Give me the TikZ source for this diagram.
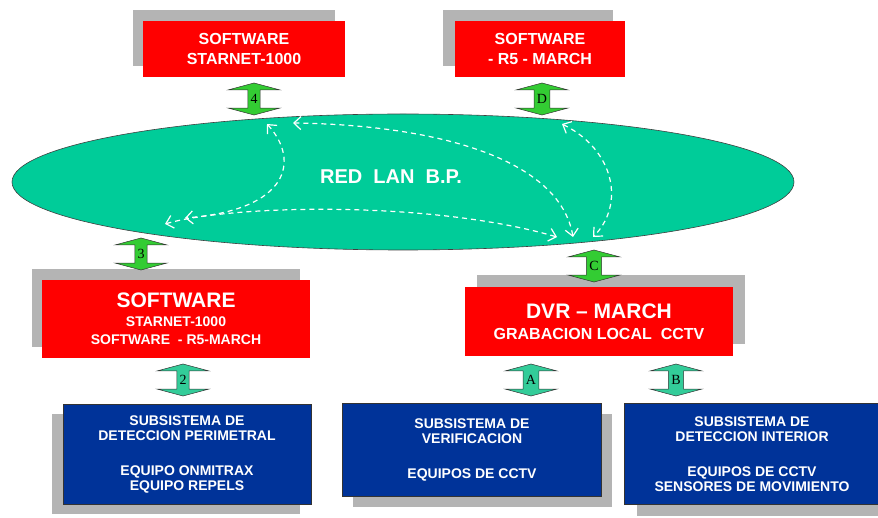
\documentclass[tikz,border=0pt]{standalone}
\usepackage{fontspec}
\setmainfont{Liberation Sans}
\newfontfamily\tmsfont{Liberation Serif}
\usetikzlibrary{shapes.geometric,shapes.arrows,shadows,arrows.meta}
\definecolor{boxred}{HTML}{FF0000}
\definecolor{boxblue}{HTML}{003399}
\definecolor{lanfill}{HTML}{00CC99}
\definecolor{shadowgray}{HTML}{B4B4B4}
\definecolor{arrgreen}{HTML}{33CC33}
\definecolor{arrteal}{HTML}{33CC99}
\begin{document}
\begin{tikzpicture}[x=1pt,y=-1pt,
    redbox/.style={fill=boxred, text=white, align=center, inner sep=0pt},
    bluebox/.style={fill=boxblue, draw=black!80, line width=0.6pt, text=white,
      font=\bfseries\fontsize{14}{15}\selectfont, align=center, inner sep=0pt},
    blockarrow/.style={double arrow, shape border rotate=90, draw=black!80, line width=0.5pt,
      minimum height=32pt, minimum width=52pt, double arrow head extend=12pt,
      double arrow tip angle=150, inner sep=0pt, font=\tmsfont\fontsize{14}{14}\selectfont},
    lanlink/.style={white, line width=1.2pt, dash pattern=on 5pt off 4pt,
      {Straight Barb[length=7pt,width=13pt]}-{Straight Barb[length=7pt,width=13pt]}}]
  \useasboundingbox (0,0) rectangle (878,518);

  % red network
  \node[ellipse, fill=lanfill, draw=black!75, line width=0.6pt,
    minimum width=782pt, minimum height=136pt] (lan) at (403,182) {};
  \node[text=white, font=\bfseries\fontsize{20}{20}\selectfont] (lanlbl) at (391,177) {RED\ \ LAN\ \ B.P.};

  % software boxes
  \node[redbox, minimum width=202pt, minimum height=56pt, font=\bfseries\fontsize{16}{20}\selectfont,
    drop shadow={shadow xshift=-10pt, shadow yshift=11pt, fill=shadowgray, opacity=1}]
    (swstar) at (244,49) {SOFTWARE\\ STARNET-1000};
  \node[redbox, minimum width=170pt, minimum height=56pt, font=\bfseries\fontsize{16}{20}\selectfont,
    drop shadow={shadow xshift=-12pt, shadow yshift=11pt, fill=shadowgray, opacity=1}]
    (swmarch) at (540,49) {SOFTWARE\\ - R5 - MARCH};
  \node[redbox, minimum width=268pt, minimum height=78pt, font=\bfseries\fontsize{14}{18}\selectfont,
    drop shadow={shadow xshift=-10pt, shadow yshift=11pt, fill=shadowgray, opacity=1}]
    (swboth) at (176,319) {{\fontsize{21}{21}\selectfont SOFTWARE}\\[1pt]
      STARNET-1000\\ SOFTWARE\ \ - R5-MARCH};
  \node[redbox, minimum width=268pt, minimum height=69pt, font=\bfseries\fontsize{16}{21}\selectfont,
    drop shadow={shadow xshift=12pt, shadow yshift=12pt, fill=shadowgray, opacity=1}]
    (dvr) at (599,322) {{\fontsize{21}{21}\selectfont DVR – MARCH}\\ GRABACION LOCAL\ \ CCTV};

  % subsystems
  \node[bluebox, minimum width=248pt, minimum height=100pt,
    drop shadow={shadow xshift=-11pt, shadow yshift=-10pt, fill=shadowgray, opacity=1}]
    (perim) at (187,454) {SUBSISTEMA DE\\ DETECCION PERIMETRAL\\[20pt] EQUIPO ONMITRAX\\ EQUIPO REPELS};
  \node[bluebox, minimum width=259pt, minimum height=93pt,
    drop shadow={shadow xshift=10pt, shadow yshift=-10pt, fill=shadowgray, opacity=1}]
    (verif) at (472,450) {SUBSISTEMA DE\\ VERIFICACION\\[20pt] EQUIPOS DE CCTV};
  \node[bluebox, minimum width=255pt, minimum height=101pt,
    drop shadow={shadow xshift=12pt, shadow yshift=-11pt, fill=shadowgray, opacity=1}]
    (inter) at (752,454) {SUBSISTEMA DE\\ DETECCION INTERIOR\\[20pt] EQUIPOS DE CCTV\\ SENSORES DE MOVIMIENTO};

  % links
  \node[blockarrow, fill=arrgreen] (l4) at (254,99) {4};
  \node[blockarrow, fill=arrgreen] (lD) at (542,99) {D};
  \node[blockarrow, fill=arrgreen] (l3) at (141,254) {3};
  \node[blockarrow, fill=arrgreen] (lC) at (594,266) {C};
  \node[blockarrow, fill=arrteal] (l2) at (183,380) {2};
  \node[blockarrow, fill=arrteal] (lA) at (531,380) {A};
  \node[blockarrow, fill=arrteal] (lB) at (676,380) {B};

  % paths inside the LAN
  \coordinate (p4a) at (267,124);
  \coordinate (p4b) at (293,123);
  \coordinate (pDa) at (562,124);
  \coordinate (p3a) at (185,218);
  \coordinate (p3b) at (165,224);
  \coordinate (pCa) at (557,237);
  \coordinate (pCb) at (573,237);
  \coordinate (pCc) at (593,237);
  \draw[lanlink] (p4a) .. controls (300,160) and (290,210) .. (p3a);
  \draw[lanlink] (p3b) .. controls (230,205) and (430,200) .. (pCa);
  \draw[lanlink] (p4b) .. controls (440,125) and (560,160) .. (pCb);
  \draw[lanlink] (pDa) .. controls (615,150) and (625,205) .. (pCc);
\end{tikzpicture}
\end{document}
